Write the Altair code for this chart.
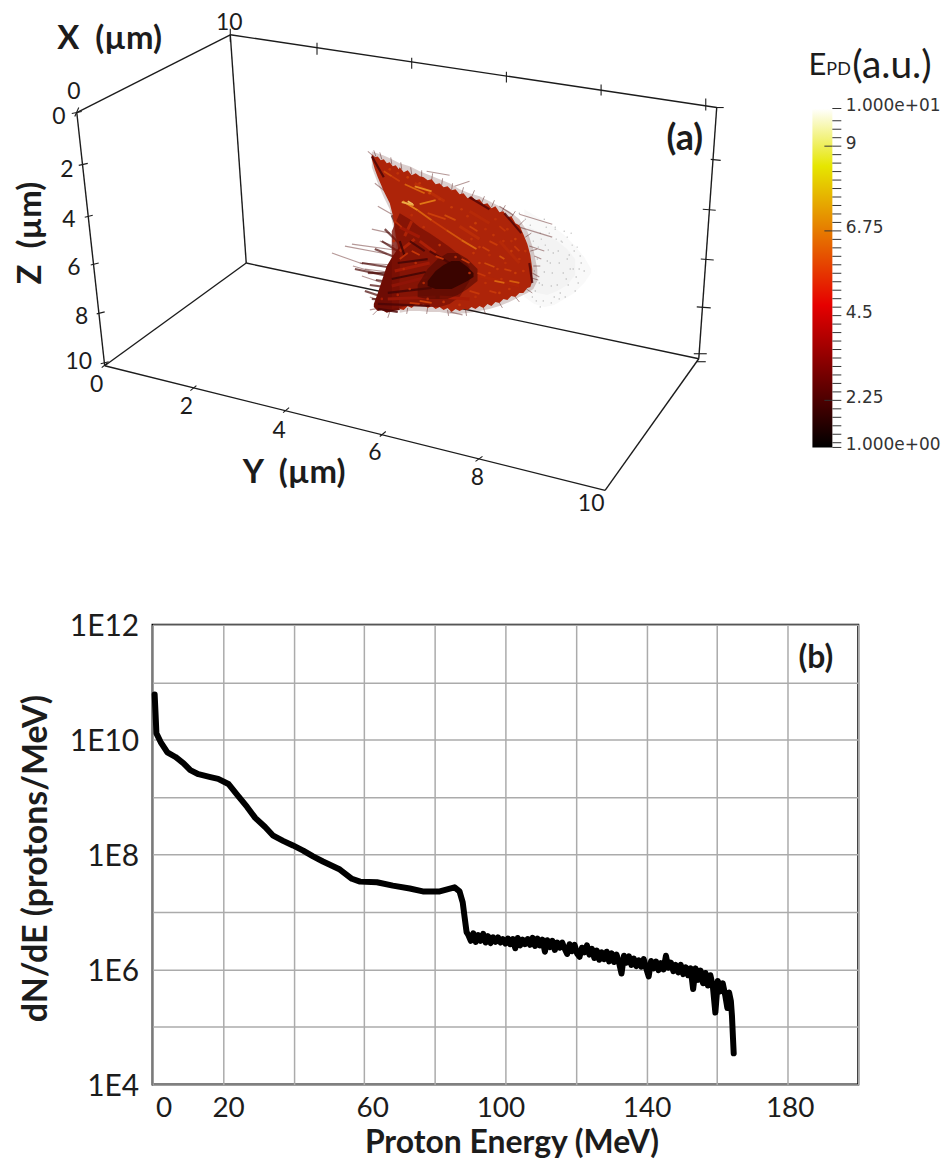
import altair as alt
import pandas as pd

# ---------- panel (b) spectrum ----------
energy = [0.6,0.85,1.1,2.3,4.2,6.5,8.8,10.7,13.0,16.4,18.6,21.5,24.0,26.8,29.1,31.9,34.2,37.0,39.8,42.7,45.5,48.3,53.1,56.5,58.8,63.6,68.1,72.9,76.6,81.4,85.6,87.0,87.9,88.4,89.0,
          89.5,90.2,90.9,91.6,92.3,93.0,93.7,94.4,95.1,95.8,96.5,97.2,97.9,98.6,99.3,100.0,100.7,101.4,102.1,102.8,103.5,104.2,104.9,105.6,106.3,107.0,107.7,108.4,109.1,109.8,110.5,111.2,111.9,112.6,113.3,114.0,114.7,115.4,116.1,116.8,117.5,118.2,118.9,119.6,120.3,121.0,121.7,122.4,123.1,123.8,124.5,125.2,125.9,126.6,127.3,128.0,128.7,129.4,130.1,130.8,131.5,132.2,132.9,133.6,134.3,135.0,135.7,136.4,137.1,137.8,138.5,139.2,139.9,140.6,141.3,142.0,142.7,143.4,144.1,144.8,145.5,146.2,146.9,147.6,148.3,149.0,149.7,150.4,151.1,151.8,152.5,153.2,153.9,154.6,155.3,156.0,156.7,157.4,158.1,158.8,159.5,160.2,160.9,161.6,162.3,162.9,163.4,163.9,164.2,164.5,164.7]
log_dnde = [10.79,10.46,10.11,9.96,9.78,9.70,9.59,9.47,9.40,9.35,9.32,9.23,9.04,8.83,8.64,8.48,8.33,8.24,8.16,8.07,7.97,7.88,7.74,7.58,7.53,7.52,7.46,7.41,7.36,7.36,7.43,7.36,7.17,6.93,6.65,
            6.60,6.50,6.63,6.48,6.60,6.50,6.62,6.47,6.58,6.46,6.56,6.48,6.56,6.47,6.53,6.45,6.54,6.44,6.53,6.37,6.55,6.42,6.52,6.44,6.53,6.43,6.55,6.41,6.54,6.42,6.52,6.31,6.51,6.39,6.50,6.34,6.47,6.38,6.47,6.36,6.27,6.44,6.32,6.43,6.28,6.22,6.38,6.30,6.42,6.26,6.36,6.20,6.33,6.17,6.30,6.18,6.31,6.14,6.28,6.13,6.26,6.12,5.93,6.24,6.12,6.23,6.08,6.19,6.06,6.16,6.05,6.18,6.02,5.88,6.15,6.02,6.14,5.99,6.11,6.00,6.24,6.03,6.12,5.97,6.08,5.95,6.08,5.92,6.04,5.90,6.02,5.66,6.02,5.82,5.98,5.76,5.94,5.72,5.90,5.70,5.25,5.80,5.62,5.76,5.55,5.33,5.60,5.45,5.20,4.80,4.54]
energy_grid = [0,20,40,60,80,100,120,140,160,180,200]
decades = [1e4,1e5,1e6,1e7,1e8,1e9,1e10,1e11,1e12]

# ---------- panel (a) box, in digitised picture units ----------
box_edges = [(76,111,230,33),(230,33,718,106),(230,33,246,262),(76,111,104,365),(104,365,246,262),
             (104,365,606,490),(246,262,700,358),(718,106,700,358),(700,358,606,490)]
box_ticks = [(71,112,81,110),(78,164,87,162),(84,216,92,214),(90,264,98,262),(96,313,104,311),(100,363,108,361),
             (230,27,230,40),(317,41,317,53),(412,56,412,67),(507,70,507,81),(602,83,602,94),(707,97,707,109),
             (717,106,725,106),(712,158,722,159),(704,208,717,209),(702,258,715,259),(698,306,712,307),(695,353,708,353),(698,361,707,361),
             (101,367,107,362),(190,390,196,385),(283,412,289,407),(380,436,386,431),(476,461,483,456),
             (74,115,78,106)]
tick_labels = [("10",229,21),("0",73,90),("0",58,116),("2",66,169),("4",68,219),("6",73,267),("8",81,316),("10",78,361),
               ("0",96,384),("2",186,406),("4",279,431),("6",375,453),("8",478,478),("10",592,504)]
titles_flat = [("X\u00a0\u00a0(µm)",109,37),("Y\u00a0\u00a0(µm)",294,473)]
title_z = [("Z\u00a0\u00a0(µm)",30,232)]
panel_a = [("(a)",686,138)]

# ---------- plume, digitised outlines: x, top, bottom ----------
wing_x = [372,375,378,381,384,387,390,393,396,399,400,404,408,412,416,420,424,428,432,436,440,444,448,452,456,460,464,468,472,476,480,484,488,492,496,500,504,508,512,516,520,524,528,531,533]
wing_t = [153,156,155,159,158,162,161,165,164,168,166,171,169,174,172,175,176,179,178,183,182,186,185,189,188,193,192,197,195,199,198,203,202,207,205,211,210,216,215,222,224,233,243,254,268]
wing_b = [158,168,176,183,190,196,202,214,235,250,308,309,305,307,303,305,303,307,305,308,306,309,307,311,308,310,308,309,306,308,305,307,303,305,301,302,298,299,295,296,292,292,287,286,280]
soft_x = [372,378,384,390,396,400,410,420,430,440,450,460,470,480,490,500,510,520,528,534,538]
soft_t = [150,152,154,157,160,162,165,170,174,178,182,188,192,195,200,205,210,218,230,248,268]
soft_b = [166,182,196,208,240,312,310,310,311,311,313,313,312,310,308,305,301,296,292,288,280]
lobe_x = [374,378,382,387,393,400]
lobe_t = [303,292,280,265,255,245]
lobe_b = [306,310,309,312,310,309]
dark_x = [392,400,410,420,430,440,450,460,470]
dark_t = [230,212,218,226,232,239,246,254,266]
dark_b = [308,307,304,305,306,306,303,296,280]
halo_x = [418,428,438,448,458,468,478]
halo_t = [284,268,258,252,252,258,268]
halo_b = [296,298,298,298,294,288,280]
core_x = [428,436,444,452,460,468,474]
core_t = [280,270,264,260,260,266,272]
core_b = [285,288,288,288,284,280,276]
haze_x = [525,535,545,555,565,575,585,592]
haze_t = [208,214,220,226,234,244,256,268]
haze_b = [296,303,306,304,298,292,282,272]
haze2_x = [528,538,548,558,568,576]
haze2_t = [225,230,234,240,248,258]
haze2_b = [288,292,294,290,284,274]

hot_streaks = [(403,200,418,209,7.0),(418,209,432,219,6.3),(432,219,447,229,5.5),(447,229,462,239,6.0),(462,239,477,248,6.4),
               (384,170,392,175,5.8),(392,175,400,180,5.4),(405,183,425,192,6.3),(415,185,432,190,7.2),(408,200,413,203,8.5),
               (402,201,414,204,8.0),(420,203,436,199,6.8),(428,212,446,218,5.6),(445,214,456,219,5.8),(470,225,478,230,5.6),
               (490,240,498,244,5.5),(500,255,505,258,6.0),(485,262,495,266,5.8),(510,280,520,282,6.2),(495,280,505,282,6.4),
               (470,290,480,293,5.4),(420,300,432,302,5.6),(410,302,420,303,5.2),(483,246,490,250,5.6),(462,258,470,262,5.4),
               (500,225,506,230,5.2),(515,245,520,250,5.4),(490,290,497,292,5.4),(478,272,486,275,5.4),(505,268,512,270,5.6),
               (400,258,408,252,5.0),(412,250,420,254,5.4),(436,255,444,258,5.2),(395,220,402,226,4.8)]
red_streaks = [(400,250,415,238,4.3),(405,235,412,220,4.3),(420,240,436,252,4.2),(395,270,430,262,3.8),(392,285,428,276,3.4),
               (388,298,436,296,3.6),(440,296,470,298,4.0),(400,226,420,236,3.8),(470,210,490,222,4.6),(500,240,520,262,4.6),
               (480,275,520,285,4.4),(460,225,480,238,4.8),(415,182,445,200,4.8)]
dark_streaks = [(398,262,428,258,1.6),(392,278,426,271,1.5),(388,292,432,287,1.6),(378,303,430,305,1.8),(410,240,425,250,1.7),
                (430,250,450,262,1.8),(400,240,405,255,1.5),(372,155,384,176,1.8),(470,196,490,208,2.0),(505,212,522,232,2.0),
                (530,262,533,282,2.0),(378,308,398,311,1.8)]
feathers = [(345,245,387,253),(332,252,363,263),(353,265,385,274),(362,275,386,283),(370,296,380,300),(372,228,390,232),
            (378,205,392,213),(368,150,380,160),(375,182,388,192),(360,262,395,264),(352,243,395,249),(370,309,392,305),
            (365,268,396,272),(380,240,394,245),(427,170,450,174),(455,185,470,180),(500,205,514,214),(520,226,553,236),
            (535,255,542,258),(533,272,540,276),(450,311,463,314),(520,213,553,223),(530,245,545,250)]
thick_feathers = [(400,268,362,262),(402,278,355,268),(400,288,370,284),(398,300,372,298),(400,258,375,248),(405,248,385,228),
                  (400,232,392,214),(395,300,365,290),(398,272,368,272),(396,282,376,279),(398,250,382,240)]
edge_fuzz = [(376,155,374,149),(382,158,380,151),(392,163,391,156),(402,168,401,161),(412,173,411,166),(422,176,422,169),(432,179,433,172),
             (442,184,443,177),(452,189,453,182),(462,193,464,186),(472,196,475,189),(482,202,485,195),(492,206,495,199),(502,211,506,204),
             (512,216,516,210),(520,224,525,219),(526,236,532,232),(531,250,538,248),(534,265,541,265),(532,277,539,279),(527,288,533,292),
             (516,296,520,301),(500,302,503,307),(484,307,486,313),(466,309,467,315),(448,309,449,315),(428,307,427,313),(408,307,407,313),
             (390,311,388,317),(378,309,373,314)]
hot_dots = [(468,215,5.2),(476,222,5.6),(486,228,5.0),(494,234,5.4),(504,240,5.2),(512,250,5.6),(520,258,5.2),(524,270,5.4),(516,272,5.6),(506,262,5.0),
            (498,268,5.4),(490,254,5.0),(480,246,5.4),(472,238,5.2),(480,262,5.6),(470,272,5.0),(486,282,5.2),(500,292,5.6),(476,296,5.0),(460,304,5.4),
            (444,301,5.2),(428,298,5.0),(510,288,5.4),(496,218,5.0),(508,228,5.2),(516,238,5.6),(526,250,5.2),(462,208,5.4),(452,206,5.6),(440,198,5.2),
            (430,192,5.8),(420,182,5.4),(408,176,5.6),(398,172,5.2),(390,168,5.4),(412,214,5.0),(424,226,5.2),(440,244,5.4),(456,256,5.0),(394,240,4.8),
            (404,268,4.6),(416,262,4.8),(410,288,4.6),(424,282,4.8),(398,294,4.4),(382,298,4.0),(512,240,5.0),(490,272,5.4),(502,278,5.2),(474,252,5.4)]
speckle_x = [534,538,541,545,549,552,556,560,563,567,570,574,578,582,536,540,544,548,553,557,561,565,569,573,577,581,585,
             535,539,543,547,551,555,559,564,568,572,576,580,537,542,546,550,554,558,562,566,571,575,579,520,526,531,545,556,
             568,533,541,552,560]
speckle_y = [240,258,232,271,249,285,226,262,241,278,254,268,246,262,290,282,300,260,272,238,292,230,284,244,276,255,270,
             270,246,284,226,262,296,250,272,258,232,290,268,300,238,244,232,252,284,240,296,268,250,282,212,218,224,218,228,
             236,296,306,302,298]

# ---------- colour bar ----------
bar_labels = [1,2.25,4.5,6.75,9,10]
bar_minor = [1,1.125,1.35,1.575,1.8,2.025,2.25,2.475,2.7,2.925,3.15,3.375,3.6,3.825,4.05,4.275,4.5,4.725,4.95,5.175,5.4,5.625,5.85,6.075,6.3,6.525,6.75,6.975,7.2,7.425,7.65,7.875,8.1,8.325,8.55,8.775,9,9.225,9.45,9.675,10]
bar_major = [2.25,6.75,9]

FONT = "Lato"
INK = "#1c1c1c"

x3 = alt.Scale(domain=[152,808], nice=False, zero=False)
y3 = alt.Scale(domain=[530,8], nice=False, zero=False)
X = lambda f: alt.X(f, type="quantitative", scale=x3, axis=None)
Y = lambda f: alt.Y(f, type="quantitative", scale=y3, axis=None)
plume_scale = alt.Scale(domain=[1,2.5,4,5.5,7,8.5], range=["#2a0300","#6b0a02","#a81c06","#c93a0a","#e5801a","#f0c060"])

def segs(rows, cols=("x","y","x2","y2")):
    return pd.DataFrame(rows, columns=list(cols))

def seg_layer(df, width, color=INK, opacity=1):
    return alt.Chart(df).mark_rule(strokeWidth=width, color=color, opacity=opacity).encode(
        x=X("x"), y=Y("y"), x2="x2:Q", y2="y2:Q")

def hot_layer(df, width, opacity=1):
    return alt.Chart(df).mark_rule(strokeWidth=width, opacity=opacity).encode(
        x=X("x"), y=Y("y"), x2="x2:Q", y2="y2:Q",
        color=alt.Color("v:Q", scale=plume_scale, legend=None))

def area_layer(xs, ts, bs, color, opacity=1):
    df = pd.DataFrame({"x":xs,"t":ts,"b":bs})
    return alt.Chart(df).mark_area(color=color, opacity=opacity, interpolate="linear").encode(
        x=X("x"), y=Y("t"), y2="b:Q")

def text_layer(rows, size, bold=False, angle=0):
    df = pd.DataFrame(rows, columns=["t","x","y"])
    return alt.Chart(df).mark_text(font=FONT, fontSize=size, fontWeight="bold" if bold else "normal",
                                   color=INK, angle=angle, align="center", baseline="middle").encode(
        x=X("x"), y=Y("y"), text="t:N")

box = alt.layer(
    area_layer(haze_x, haze_t, haze_b, "#9a9aa0", 0.06),
    area_layer(haze2_x, haze2_t, haze2_b, "#9a9aa0", 0.06),
    alt.Chart(pd.DataFrame({"x":speckle_x,"y":speckle_y})).mark_point(filled=True, size=2, color="#777", opacity=0.5).encode(x=X("x"), y=Y("y")),
    seg_layer(segs(box_edges), 1.4),
    seg_layer(segs(box_ticks), 1.1),
    seg_layer(segs(feathers), 1.1, "#5a1a18", 0.45),
    seg_layer(segs(thick_feathers), 2.2, "#4a0806", 0.7),
    seg_layer(segs(edge_fuzz), 1.0, "#4a0c08", 0.45),
    area_layer(soft_x, soft_t, soft_b, "#4a100c", 0.2),
    area_layer(wing_x, wing_t, wing_b, "#ad2409"),
    area_layer(lobe_x, lobe_t, lobe_b, "#6e0c04"),
    area_layer(dark_x, dark_t, dark_b, "#7c1005", 0.8),
    hot_layer(segs(red_streaks, ("x","y","x2","y2","v")), 3),
    hot_layer(segs(dark_streaks, ("x","y","x2","y2","v")), 2.2, 0.85),
    area_layer(halo_x, halo_t, halo_b, "#4a0702", 0.55),
    area_layer(core_x, core_t, core_b, "#320400", 0.85),
    hot_layer(segs(hot_streaks, ("x","y","x2","y2","v")), 1.8),
    alt.Chart(segs(hot_dots, ("x","y","v"))).mark_circle(size=7, opacity=0.9).encode(
        x=X("x"), y=Y("y"), color=alt.Color("v:Q", scale=plume_scale, legend=None)),
    text_layer(tick_labels, 23),
    text_layer(titles_flat, 33, True),
    text_layer(title_z, 33, True, 270),
    text_layer(panel_a, 36, True),
).properties(width=656, height=522, view=alt.ViewConfig(stroke=None))

# colour bar panel
cy = alt.Scale(domain=[-1.197,12.62], nice=False, zero=False)
cx = alt.Scale(domain=[813,842], nice=False, zero=False)
ramp = alt.Gradient(gradient="linear", x1=0, x2=0, y1=1, y2=0, stops=[
    alt.GradientStop(offset=0, color="#000000"), alt.GradientStop(offset=0.42, color="#e60000"),
    alt.GradientStop(offset=0.83, color="#e6e600"), alt.GradientStop(offset=1, color="#ffffff")])
bar = alt.Chart(pd.DataFrame({"lo":[1],"hi":[10],"a":[813],"b":[833]})).mark_rect(color=ramp).encode(
    x=alt.X("a:Q", scale=cx, axis=None), x2="b:Q",
    y=alt.Y("lo:Q", scale=cy, axis=alt.Axis(orient="right", values=bar_labels, grid=False, ticks=False, domain=False,
            labelFont="DejaVu Sans", labelFontSize=17, labelColor="#333", labelPadding=4, title=None,
            labelOverlap=False, labelBound=False, labelFlush=False, labelOffset=-3,
            labelExpr="datum.value==10?'1.000e+01':datum.value==1?'1.000e+00':format(datum.value,'.3~f')")),
    y2="hi:Q")
minor = alt.Chart(pd.DataFrame({"v":bar_minor,"a":833,"b":842})).mark_rule(color="#333", strokeWidth=1).encode(
    x=alt.X("a:Q", scale=cx), x2="b:Q", y=alt.Y("v:Q", scale=cy))
major = alt.Chart(pd.DataFrame({"v":bar_major,"a":825,"b":833})).mark_rule(color="#333", strokeWidth=1).encode(
    x=alt.X("a:Q", scale=cx), x2="b:Q", y=alt.Y("v:Q", scale=cy))
title_vals = pd.DataFrame({"t":["E","PD","(a.u.)"],"x":[809,827,853],"v":[11.14,11.02,11.14],"s":[31,18,39]})
def bar_title(i):
    r = title_vals.iloc[[i]]
    return alt.Chart(r).mark_text(font=FONT, fontSize=int(r.s.iloc[0]), color=INK, align="left", baseline="middle").encode(
        x=alt.X("x:Q", scale=cx), y=alt.Y("v:Q", scale=cy), text="t:N")
cbar = alt.layer(bar, minor, major, bar_title(0), bar_title(1), bar_title(2)).properties(
    width=29, height=522, view=alt.ViewConfig(stroke=None))

# spectrum panel
spec = pd.DataFrame({"e":energy,"n":[10**v for v in log_dnde]})
xs = alt.Scale(domain=[0,200], nice=False, zero=False)
ys = alt.Scale(type="log", base=10, domain=[1e4,1e12], nice=False)
line = alt.Chart(spec).mark_line(color="#000000", strokeWidth=6, strokeJoin="round", strokeCap="round").encode(
    x=alt.X("e:Q", scale=xs, axis=alt.Axis(values=energy_grid, grid=True, gridColor="#ababab", gridWidth=1.5, ticks=False,
            domain=False, labelFont=FONT, labelFontSize=28, labelColor=INK, labelPadding=10,
            labelOverlap=False, labelBound=False, labelFlush=False,
            labelExpr="indexof([0,20,60,100,140,180],datum.value)>=0?datum.label:''",
            labelOffset=alt.expr("datum.value==0?11:datum.value==20?5:datum.value==60?8:datum.value==100?-5:datum.value==180?2:0"),
            title="Proton Energy (MeV)", titleFont=FONT, titleFontSize=32, titleFontWeight="bold", titleColor=INK, titlePadding=5, titleX=360)),
    y=alt.Y("n:Q", scale=ys, axis=alt.Axis(values=decades, grid=True, gridColor="#ababab", gridWidth=1.5, ticks=False,
            domain=False, labelFont=FONT, labelFontSize=30, labelColor=INK, labelPadding=14, labelOffset=2,
            labelOverlap=False, labelBound=False, labelFlush=False,
            labelExpr="round(log(datum.value)/LN10)%2==0?'1E'+round(log(datum.value)/LN10):''",
            title="dN/dE (protons/MeV)", titleFont=FONT, titleFontSize=34, titleFontWeight="bold", titleColor=INK, titlePadding=16, titleY=234)))
panel_b = alt.Chart(pd.DataFrame({"e":[188.0],"n":[10**11.42],"t":["(b)"]})).mark_text(
    font=FONT, fontSize=32, fontWeight="bold", color=INK).encode(
    x=alt.X("e:Q", scale=xs), y=alt.Y("n:Q", scale=ys), text="t:N")
bottom = alt.layer(line, panel_b).properties(width=708, height=461, view=alt.ViewConfig(stroke="#000", strokeWidth=2))

top = alt.hconcat(box, cbar, spacing=2)
chart = alt.vconcat(top, bottom, spacing=81).properties(padding={"left":7,"top":0,"right":0,"bottom":0}, background="white")
chart.save("out.html", embed_options={"renderer": "svg", "actions": False})
